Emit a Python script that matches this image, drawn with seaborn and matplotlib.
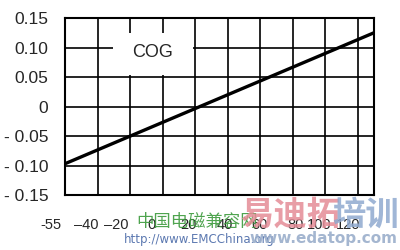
import matplotlib
matplotlib.use("Agg")
import matplotlib.pyplot as plt
import seaborn as sns
import pandas as pd
from matplotlib.patches import Rectangle

# ---- data ----
temperature = [-60, 130]          # line spans full axis width
cog = [-0.097, 0.125]
x_tick_labels = ["-55", "\u201340", "\u201320", "0", "20", "40", "60", "80", "100", "120"]
y_ticks = [-0.15, -0.10, -0.05, 0.0, 0.05, 0.10, 0.15]
y_tick_labels = ["- 0.15", "- 0.10", "- 0.05", "0", "0.05", "0.10", "0.15"]
label_text = "COG"

sns.set_style("white")
plt.rcParams['font.family'] = ['Liberation Sans', 'DejaVu Sans']

fig = plt.figure(figsize=(4, 2.5), dpi=100)
ax = fig.add_axes([65/400, 1-195/250, (374-65)/400, (195-18)/250])

df = pd.DataFrame({"T": temperature, "COG": cog})
sns.lineplot(data=df, x="T", y="COG", ax=ax, color="black", lw=2.4, zorder=4)

ax.set_xlim(-60, 130)
ax.set_ylim(-0.15, 0.15)

# grid lines
grid_x = [-40, -20, 0, 20, 40, 60, 80, 100, 120]
ax.set_xticks(grid_x, minor=True)
ax.set_yticks(y_ticks)
ax.set_yticklabels(y_tick_labels)
ax.tick_params(axis='y', length=0, pad=12, labelsize=12.5)
ax.grid(True, which='minor', axis='x', color='black', lw=1.2)
ax.grid(True, which='major', axis='y', color='black', lw=1.2)
ax.set_axisbelow(True)
ax.tick_params(axis='x', which='both', length=0)

# x tick labels (irregular placement as in the reference)
label_px = [51, 86, 116, 152, 188, 225, 259, 296, 319, 348]
ax.set_xticks([])
for lab, px in zip(x_tick_labels, label_px):
    fig.text(px/400, 1-225/250, lab, ha='center', va='center', fontsize=10.5)

ax.set_xlabel("")
ax.set_ylabel("")
for s in ax.spines.values():
    s.set_color("black")
    s.set_linewidth(1.5)

# white box for COG label
ax.add_patch(Rectangle((-30.5, 0.0535), 49.3, 0.071, facecolor='white',
                       edgecolor='none', zorder=2))
ax.text(-6, 0.091, label_text, ha='center', va='center', fontsize=13,
        zorder=3)

# watermarks
fig.text(197/400, 1-222/250, "中国电磁兼容网", ha='center', va='center', fontsize=12.5,
         color='#3c9a3c', family=['Noto Sans CJK SC', 'DejaVu Sans'], alpha=0.9)
fig.text(199/400, 1-239/250, "http://www.EMCChina.org", ha='center', va='center', fontsize=8.5,
         color='#4a6aa8', family=['DejaVu Sans'], alpha=0.9)
fig.text(290/400, 1-215/250, "易迪拓", ha='center', va='center', fontsize=24,
         color='#e58c97', family=['Noto Sans CJK SC'], weight='bold', alpha=0.85)
fig.text(366/400, 1-215/250, "培训", ha='center', va='center', fontsize=24,
         color='#8fa9cf', family=['Noto Sans CJK SC'], weight='bold', alpha=0.85)
fig.text(323/400, 1-238/250, "www.edatop.com", ha='center', va='center', fontsize=11,
         color='#9aaecb', family=['DejaVu Sans'], weight='bold', alpha=0.9)

fig.savefig("out.png", dpi=100)
